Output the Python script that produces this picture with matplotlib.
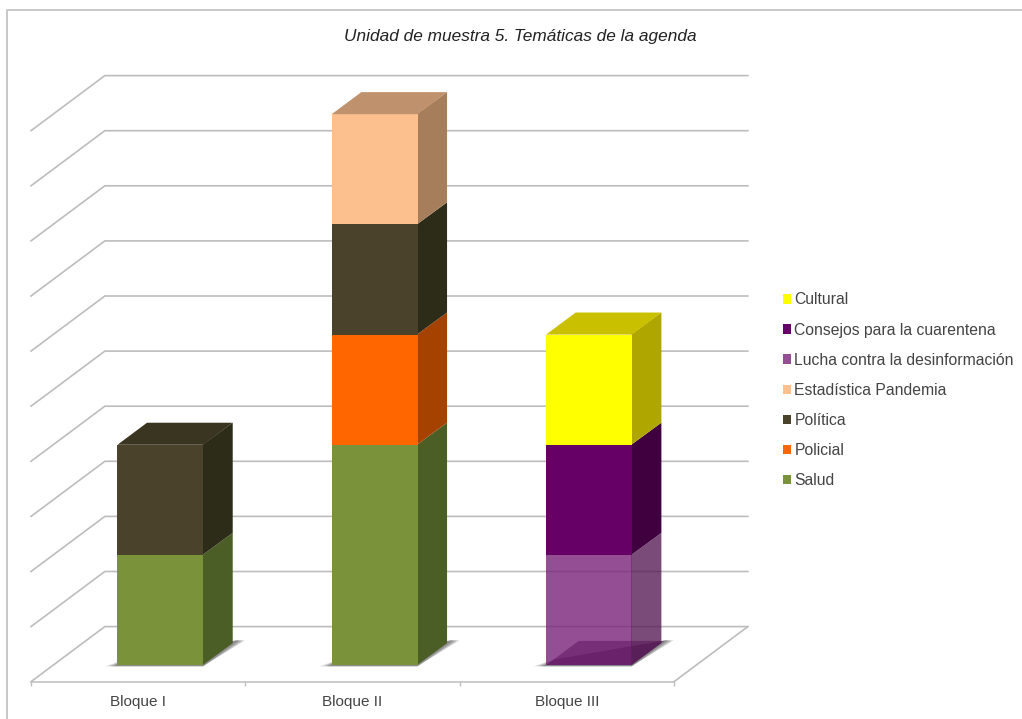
import matplotlib
matplotlib.use('Agg')
import matplotlib.pyplot as plt
from matplotlib.lines import Line2D
from matplotlib.patches import Patch, Polygon

categories = ['Bloque I', 'Bloque II', 'Bloque III']
series_names = ['Salud', 'Policial', 'Política', 'Estadística Pandemia',
                'Lucha contra la desinformación', 'Consejos para la cuarentena', 'Cultural']
salud = [2, 4, 0]
policial = [0, 2, 0]
politica = [2, 2, 0]
estadistica = [0, 2, 0]
lucha = [0, 0, 2]
consejos = [0, 0, 2]
cultural = [0, 0, 2]
series_values = [salud, policial, politica, estadistica, lucha, consejos, cultural]

# colores por serie: frente, lateral, tapa
front_colors = ['#7a933b', '#ff6600', '#4a422a', '#fcc08f', '#7a237a', '#660066', '#ffff00']
side_colors = ['#4b5e25', '#a64200', '#2d2c18', '#a67e5c', '#591d56', '#400040', '#b0a600']
top_colors = ['#5d7230', '#bf4e00', '#3a3520', '#bf916c', '#6f306e', '#4f004f', '#c9c000']
alphas = [1, 1, 1, 1, 0.8, 1, 1]

Y_MAX = 10
BAR_WIDTH = 0.4
DEPTH_X = 0.3445   # desplazamiento en x de la pared del fondo, en categorias
DEPTH_Y = 1.0      # desplazamiento en y de la pared del fondo, en unidades
D_FRONT = 0.30
D_BACK = 0.70
SEAM = 0.003       # solape entre frente y lateral para que no quede una linea blanca
GRID = '#bdbdbd'
TEXT = '#444444'

plt.rcParams['font.family'] = ['Liberation Sans', 'DejaVu Sans']


def proj(c, v, d):
    # proyeccion oblicua: categoria, valor, profundidad
    return (c + d * DEPTH_X, v + d * DEPTH_Y)


def face(ax, pts, color, alpha=1, z=3):
    ax.add_patch(Polygon(pts, closed=True, facecolor=color, edgecolor='none',
                         alpha=alpha, zorder=z, clip_on=False))


fig = plt.figure(figsize=(10.22, 7.19), dpi=100, facecolor='white')
ax = fig.add_axes([31 / 1022, 37.3 / 719, 643 / 1022, 551 / 719])
ax.set_xlim(0, len(categories))
ax.set_ylim(0, Y_MAX)
ax.patch.set_visible(False)
for s in ['top', 'left', 'right']:
    ax.spines[s].set_visible(False)
ax.spines['bottom'].set_color(GRID)
ax.spines['bottom'].set_linewidth(1.1)
ax.set_yticks([])
ax.set_xticks(range(len(categories) + 1))
ax.set_xticklabels([])
ax.set_xticks([i + 0.5 for i in range(len(categories))], minor=True)
ax.set_xticklabels(categories, minor=True, fontsize=11, color=TEXT)
ax.tick_params(axis='x', which='major', length=3, width=1, color=GRID)
ax.tick_params(axis='x', which='minor', length=0, pad=9.5)

# rejilla: pared del fondo y suelo
n = len(categories)
for v in range(Y_MAX + 1):
    x0, y0 = proj(0, v, 0)
    x1, y1 = proj(0, v, 1)
    x2, y2 = proj(n, v, 1)
    ax.plot([x0, x1, x2], [y0, y1, y2], color=GRID, lw=1.2, zorder=1,
            clip_on=False, solid_joinstyle='miter')
x0, y0 = proj(n, 0, 0)
x1, y1 = proj(n, 0, 1)
ax.plot([x0, x1], [y0, y1], color=GRID, lw=1.2, zorder=1, clip_on=False)

# barras apiladas
for i in range(n):
    left = i + 0.5 - BAR_WIDTH / 2
    right = i + 0.5 + BAR_WIDTH / 2

    # sombra sobre el suelo, en capas para suavizar el borde
    for grow_l, grow_r, a in [(0.056, 0.04, 0.25), (0.035, 0.028, 0.3), (0.018, 0.014, 0.35)]:
        face(ax, [proj(left - grow_l, -0.02, D_FRONT), proj(right, -0.02, D_FRONT),
                  proj(right + grow_r, 0, D_BACK + 0.05), proj(right, 0, D_BACK + 0.05),
                  proj(left, 0, D_FRONT + 0.1)],
             '#555555', alpha=a, z=2)

    bottom = 0
    top_idx = None
    translucent_base = False
    for k, vals in enumerate(series_values):
        h = vals[i]
        if h == 0:
            continue
        if bottom == 0 and alphas[k] < 1:
            translucent_base = True
        face(ax, [proj(right - SEAM, bottom, D_FRONT), proj(right, bottom, D_BACK),
                  proj(right, bottom + h, D_BACK), proj(right - SEAM, bottom + h, D_FRONT)],
             side_colors[k], alpha=alphas[k])
        face(ax, [proj(left, bottom, D_FRONT), proj(right, bottom, D_FRONT),
                  proj(right, bottom + h, D_FRONT), proj(left, bottom + h, D_FRONT)],
             front_colors[k], alpha=alphas[k])
        bottom += h
        top_idx = k
    face(ax, [proj(left, bottom, D_FRONT), proj(right, bottom, D_FRONT),
              proj(right, bottom, D_BACK), proj(left, bottom, D_BACK)], top_colors[top_idx])
    if translucent_base:
        # base visible a traves de la barra translucida
        face(ax, [proj(left, 0, D_FRONT), proj(right, 0, D_FRONT),
                  proj(right, 0, D_BACK + 0.04), proj(left, 0, D_BACK + 0.04)],
             '#4a004a', alpha=0.38, z=4)

handles = [Patch(facecolor=c, edgecolor='none', alpha=a) for c, a in zip(front_colors, alphas)]
ax.legend(handles[::-1], series_names[::-1], loc='upper left',
          bbox_to_anchor=(783 / 1022, 1 - 292.5 / 719), bbox_transform=fig.transFigure,
          frameon=False, fontsize=11.3, labelcolor=TEXT, handlelength=0.52, handleheight=0.52,
          handletextpad=0.2, labelspacing=0.96, borderpad=0, borderaxespad=0)

fig.text(520 / 1022, 1 - 36 / 719, 'Unidad de muestra 5. Temáticas de la agenda',
         ha='center', va='center', fontsize=12.45, style='italic', color='#222222')

# marco exterior
fig.add_artist(Line2D([7 / 1022, 7 / 1022, 1], [0, 1 - 9.5 / 719, 1 - 9.5 / 719],
                      color='#c4c4c4', lw=1.3, transform=fig.transFigure))

fig.savefig('out.png', dpi=100)
